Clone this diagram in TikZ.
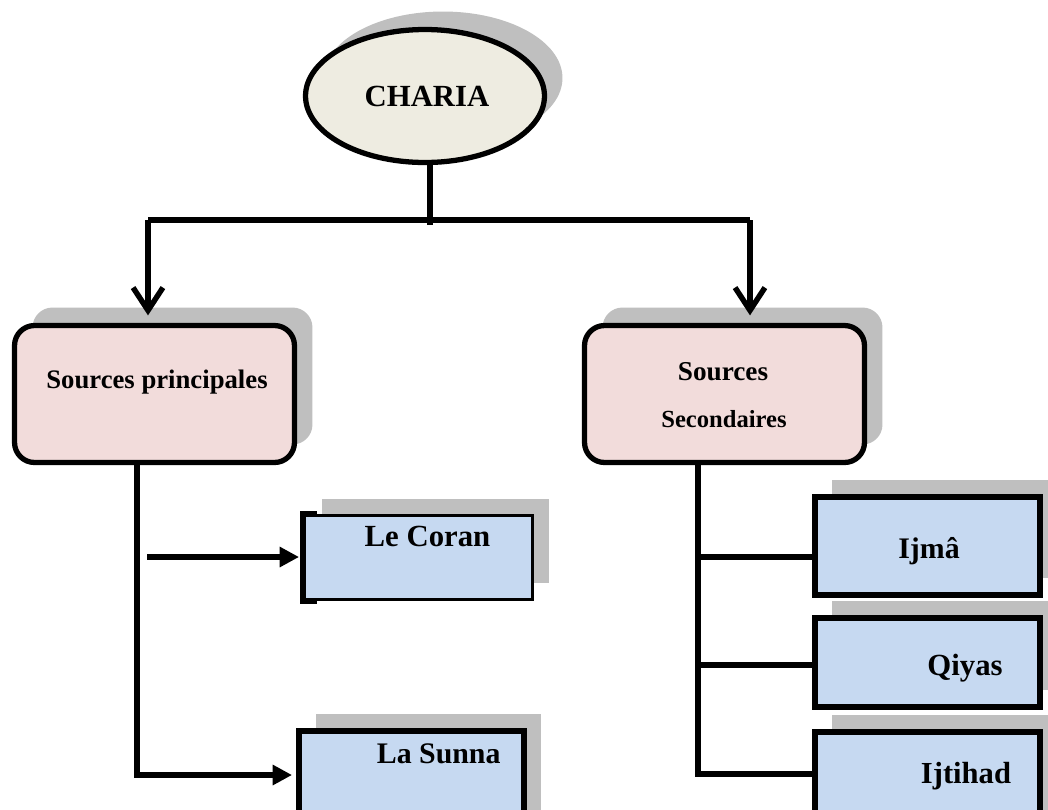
\documentclass[tikz,border=0pt]{standalone}
\usepackage{fontspec}
\setmainfont{Liberation Serif}
\usetikzlibrary{arrows.meta}
\usetikzlibrary{shadows}
\usetikzlibrary{shapes.geometric}
\usepackage{xcolor}
\definecolor{parchment}{HTML}{EEECE1}
\definecolor{rosewash}{HTML}{F2DCDB}
\definecolor{skywash}{HTML}{C6D9F1}
\definecolor{shadowgrey}{HTML}{BFBFBF}

\begin{document}
\begin{tikzpicture}[x=0.02cm, y=-0.02cm,
    greyshadow/.style={drop shadow={shadow xshift=#1, shadow yshift=#1,
      fill=shadowgrey, opacity=1}},
    greyshadow/.default=0.34cm,
    root/.style={ellipse, draw, line width=3pt, fill=parchment,
      minimum width=4.78cm, minimum height=2.66cm, greyshadow=0.36cm},
    source/.style={rectangle, rounded corners=0.4cm, draw, line width=3pt,
      fill=rosewash, minimum width=5.6cm, minimum height=2.74cm,
      greyshadow=0.36cm},
    leaf/.style={rectangle, draw, line width=3.4pt, fill=skywash,
      minimum width=4.5cm, greyshadow},
    lbl/.style={anchor=base, inner sep=0pt,
      font=\bfseries\fontsize{#1}{#1}\selectfont},
    lbl/.default=17.5,
    link/.style={line width=3.1pt},
    down/.style={link, -{Straight Barb[length=13pt, width=17pt]},
      shorten >=0.15cm},
    push/.style={link, -{Triangle[length=11pt, width=11pt]},
      shorten >=0.08cm},
  ]
    \useasboundingbox (0,0) rectangle (1048,809);
    \clip (0,0) rectangle (1048,809);

    % Top of the tree
    \node[root] (charia) at (425,96) {};

    % Two kinds of sources
    \node[source] (princ)  at (154.5,394) {};
    \node[source] (second) at (724.5,394) {};

    % Leaves under each kind
    \node[leaf, line width=1.7pt, minimum width=4.56cm,
      minimum height=1.68cm] (coran) at (418.5,557.5) {};
    \node[leaf, minimum height=1.96cm] (sunna) at (411.5,780) {};
    \node[leaf, minimum height=1.96cm] (ijtihad) at (927.5,781) {};
    \node[leaf, minimum height=1.78cm] (qiyas) at (927.5,662.5) {};
    \node[leaf, minimum height=1.96cm] (ijma) at (927.5,546) {};
    \draw[line width=3.4pt] ([xshift=0.28cm]coran.north west)
      -- (coran.north west) -- (coran.south west)
      -- ([xshift=0.28cm]coran.south west);

    % Labels
    \node[lbl] (tcharia) at (427,106) {CHARIA};
    \node[lbl=15.2] (tprinc) at (157,388) {Sources principales};
    \node[lbl=15.5] (tsecond) at (723,380) {Sources};
    \node[lbl=14] (tsecondb) at (724,427) {Secondaires};
    \node[lbl] (tcoran) at (427.5,546) {Le Coran};
    \node[lbl=17] (tsunna) at (438.7,763) {La Sunna};
    \node[lbl=17] (tijma) at (929,558) {Ijmâ};
    \node[lbl] (tqiyas) at (965,675) {Qiyas};
    \node[lbl=17.4] (tijtihad) at (966,783) {Ijtihad};

    % Split under CHARIA
    \coordinate (hub) at (430,225);
    \coordinate (jl) at (148,220);
    \coordinate (jr) at (750,220);
    \draw[link] (charia.south -| hub) -- (hub);
    \draw[link] (jl) -- (jr);
    \draw[down] (jl) -- (jl |- princ.north);
    \draw[down] (jr) -- (jr |- second.north);

    % Left branch
    \coordinate (pl) at (137,775);
    \coordinate (cstart) at (147,557);
    \draw[push] (princ.south -| pl) -- (pl) -- (pl -| sunna.west);
    \draw[push] (cstart) -- (cstart -| coran.west);

    % Right branch
    \coordinate (pr) at (698,774);
    \coordinate (bi) at (698,557);
    \coordinate (bq) at (698,665);
    \draw[link] (second.south -| pr) -- (pr) -- (pr -| ijtihad.west);
    \draw[link] (bi) -- (bi -| ijma.west);
    \draw[link] (bq) -- (bq -| qiyas.west);

\end{tikzpicture}
\end{document}
